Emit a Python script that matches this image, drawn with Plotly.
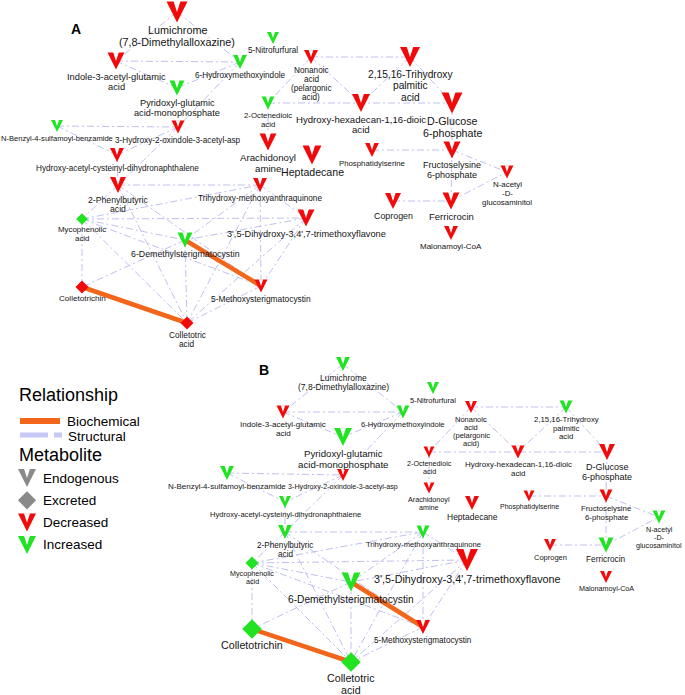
"""Metabolite network, panels A and B, with a hand-built key."""

import plotly.graph_objects as go

RED = "#f20a0a"
GREEN = "#22e322"
GRAY = "#8a8a8a"
EDGE_COLOR = "#c0c0f0"
ORANGE = "#f2661c"
TEXT_COLOR = "#141414"
FONT = "Liberation Sans, Arial, sans-serif"

W, H = 685, 695

# node names (same network in both panels)
LABELS = [
    "Lumichrome<br>(7,8-Dimethylalloxazine)",
    "5-Nitrofurfural",
    "Indole-3-acetyl-glutamic<br>acid",
    "6-Hydroxymethoxyindole",
    "Pyridoxyl-glutamic<br>acid-monophosphate",
    "Nonanoic<br>acid<br>(pelargonic<br>acid)",
    "2-Octenedioic<br>acid",
    "N-Benzyl-4-sulfamoyl-benzamide",
    "3-Hydroxy-2-oxindole-3-acetyl-asp",
    "Hydroxy-acetyl-cysteinyl-dihydronaphthalene",
    "Arachidonoyl<br>amine",
    "Heptadecane",
    "2,15,16-Trihydroxy<br>palmitic<br>acid",
    "Hydroxy-hexadecan-1,16-dioic<br>acid",
    "D-Glucose<br>6-phosphate",
    "Phosphatidylserine",
    "Fructoselysine<br>6-phosphate",
    "N-acetyl<br>-D-<br>glucosaminitol",
    "Coprogen",
    "Ferricrocin",
    "Malonamoyl-CoA",
    "2-Phenylbutyric<br>acid",
    "Trihydroxy-methoxyanthraquinone",
    "Mycophenolic<br>acid",
    "3',5-Dihydroxy-3,4',7-trimethoxyflavone",
    "6-Demethylsterigmatocystin",
    "5-Methoxysterigmatocystin",
    "Colletotrichin",
    "Colletotric<br>acid",
]
# endogenous (V) or excreted (diamond)
KIND = ["endo"] * 23 + ["excr", "endo", "endo", "endo", "excr", "excr"]

# panel A
A_X = [177, 273, 116, 240, 177, 311, 268, 57, 178, 117, 268, 312, 410, 361, 452,
       372, 452, 507, 393, 451, 451, 118, 260, 82, 306, 185, 261, 82, 187]
A_Y = [12, 38, 61, 62, 88, 57, 103, 126, 127, 155, 142, 155, 57, 103, 103,
       150, 150, 172, 201, 201, 233, 185, 185, 219, 218, 240, 286, 287, 323]
A_SIZE = [21, 12, 17, 14, 15, 14, 13, 12, 13, 14, 17, 19, 20, 18, 21,
          14, 17, 13, 16, 17, 14, 16, 14, 9, 17, 15, 13, 10, 10]
A_CHANGE = ["dec", "inc", "dec", "inc", "inc", "dec", "inc", "inc", "dec", "dec",
            "dec", "dec", "dec", "dec", "dec", "dec", "dec", "dec", "dec", "dec",
            "dec", "dec", "dec", "inc", "dec", "inc", "dec", "dec", "dec"]
A_FONT = [10.8, 8.2, 9.3, 8.2, 9.2, 8.2, 7.8, 7.6, 8.2, 8.2, 9.7, 10.6, 10.2, 9.6, 10.7,
          7.8, 9, 7.9, 8.9, 9.5, 8, 8.7, 8.2, 7.9, 9.2, 8.8, 8.4, 8.1, 8.3]

# panel B
B_X = [343, 433, 283, 403, 343, 471, 429, 227, 343, 285, 429, 472, 566, 518, 607,
       529, 606, 659, 550, 606, 606, 285, 423, 252, 467, 351, 423, 252, 351]
B_Y = [364, 388, 412, 412, 437, 407, 452, 473, 475, 502, 488, 503, 407, 452, 452,
       496, 496, 517, 545, 545, 577, 532, 532, 563, 560, 582, 627, 629, 662]
B_SIZE = [14, 12, 13, 13, 18, 12, 11, 14, 12, 12, 11, 14, 13, 13, 16,
          11, 13, 13, 12, 15, 12, 14, 13, 10, 22, 19, 14, 15, 15]
B_CHANGE = ["inc", "inc", "dec", "inc", "inc", "dec", "dec", "inc", "dec", "inc",
            "dec", "dec", "inc", "dec", "dec", "dec", "dec", "inc", "dec", "inc",
            "dec", "inc", "inc", "inc", "dec", "inc", "dec", "inc", "inc"]
B_FONT = [8.5, 7.5, 8.1, 7.6, 9.7, 7.5, 7.2, 8, 7.2, 7.6, 7.2, 8.5, 7.8, 7.9, 9,
          7, 7.8, 7.2, 7.5, 8.3, 7.2, 8.2, 7.6, 7.2, 10.8, 10.2, 8.2, 10.7, 10.7]

STRUCTURAL = [
    (0, 2), (0, 3), (2, 3), (2, 4), (3, 4), (3, 8),
    (7, 8), (7, 9), (8, 9), (9, 21), (8, 21),
    (5, 12), (5, 13), (5, 6), (12, 13), (12, 14), (6, 14), (6, 10),
    (14, 16), (15, 16), (16, 17), (16, 19), (18, 19), (19, 17),
    (21, 22), (21, 23), (21, 26), (21, 28),
    (23, 22), (23, 24), (23, 25), (23, 26), (23, 27), (23, 28),
    (22, 24), (22, 25), (22, 26), (22, 28),
    (24, 25), (24, 26), (24, 28),
    (25, 28), (25, 27), (26, 28),
]
BIOCHEMICAL = [(25, 26), (27, 28)]

PANEL_LETTERS = ["A", "B"]
LEGEND_ITEMS = ["Endogenous", "Excreted", "Decreased", "Increased"]

COLOR = {"dec": RED, "inc": GREEN}
LINE_HEIGHT = 1.1  # label line spacing, in em


def edge_xy(pairs, xs, ys):
    ex, ey = [], []
    for a, b in pairs:
        ex += [xs[a], xs[b], None]
        ey += [ys[a], ys[b], None]
    return ex, ey


def add_chevrons(fig, xs, ys, sizes, colors):
    """Down-pointing V: coloured arrowhead with a white notch on top."""
    tip_y = [y + s / 2 for y, s in zip(ys, sizes)]
    fig.add_trace(go.Scatter(
        x=xs, y=tip_y, mode="markers", hoverinfo="skip",
        marker=dict(symbol="arrow-down", size=sizes, color=colors, opacity=1,
                    line=dict(width=0)),
    ))
    notch_y = [t - 0.5 * s for t, s in zip(tip_y, sizes)]
    fig.add_trace(go.Scatter(
        x=xs, y=notch_y, mode="markers", hoverinfo="skip",
        marker=dict(symbol="arrow", angle=180, size=[0.55 * s for s in sizes],
                    color="white", opacity=1, line=dict(width=0)),
    ))


def add_panel(fig, xs, ys, sizes, changes, fonts):
    ex, ey = edge_xy(STRUCTURAL, xs, ys)
    fig.add_trace(go.Scatter(
        x=ex, y=ey, mode="lines", hoverinfo="skip",
        line=dict(color=EDGE_COLOR, width=1, dash="7px,3px,2px,3px"),
    ))
    ex, ey = edge_xy(BIOCHEMICAL, xs, ys)
    fig.add_trace(go.Scatter(
        x=ex, y=ey, mode="lines", hoverinfo="skip",
        line=dict(color=ORANGE, width=4.5),
    ))

    v_idx = [i for i, k in enumerate(KIND) if k == "endo"]
    d_idx = [i for i, k in enumerate(KIND) if k == "excr"]

    add_chevrons(fig, [xs[i] for i in v_idx], [ys[i] for i in v_idx],
                 [sizes[i] for i in v_idx], [COLOR[changes[i]] for i in v_idx])

    fig.add_trace(go.Scatter(
        x=[xs[i] for i in d_idx], y=[ys[i] for i in d_idx],
        mode="markers", hoverinfo="skip",
        marker=dict(symbol="diamond", size=[sizes[i] for i in d_idx],
                    color=[COLOR[changes[i]] for i in d_idx], opacity=1,
                    line=dict(width=0)),
    ))

    # labels under each node, one annotation per line for tight spacing
    for i, lab in enumerate(LABELS):
        if KIND[i] == "endo":
            top = ys[i] + sizes[i] / 2 + 2
        else:
            top = ys[i] + 0.65 * sizes[i] + 0.5
        lh = LINE_HEIGHT * fonts[i]
        for k, line in enumerate(lab.split("<br>")):
            fig.add_annotation(
                x=xs[i], y=top + lh * (k + 0.5), text=line, showarrow=False,
                xanchor="center", yanchor="middle", borderpad=0,
                font=dict(size=fonts[i], color=TEXT_COLOR, family=FONT),
            )


fig = go.Figure()
add_panel(fig, A_X, A_Y, A_SIZE, A_CHANGE, A_FONT)
add_panel(fig, B_X, B_Y, B_SIZE, B_CHANGE, B_FONT)

# panel letters, placed above the top-left node of each panel
for letter, lx, ly in zip(PANEL_LETTERS, [76, 264], [29, 370]):
    fig.add_annotation(x=lx, y=ly, text=f"<b>{letter}</b>", showarrow=False,
                       font=dict(size=14, color="black", family=FONT))

# ---- key ----
fig.add_annotation(x=17, y=395, text="Relationship", showarrow=False,
                   xanchor="left", font=dict(size=18, color="black", family=FONT))
fig.add_shape(type="line", x0=20, x1=60, y0=421, y1=421,
              line=dict(color=ORANGE, width=6))
fig.add_shape(type="line", x0=20, x1=62, y0=435, y1=435,
              line=dict(color="#c8c8f6", width=5, dash="28px,6px"))
fig.add_annotation(x=65, y=421, text="Biochemical", showarrow=False,
                   xanchor="left", font=dict(size=13.5, color="black", family=FONT))
fig.add_annotation(x=66, y=436, text="Structural", showarrow=False,
                   xanchor="left", font=dict(size=13.5, color="black", family=FONT))
fig.add_annotation(x=17, y=455, text="Metabolite", showarrow=False,
                   xanchor="left", font=dict(size=18, color="black", family=FONT))

key_y = [478 + 22.3 * k for k in range(len(LEGEND_ITEMS))]
key_colors = [GRAY, GRAY, RED, GREEN]
v_keys = [0, 2, 3]
add_chevrons(fig, [27] * len(v_keys), [key_y[k] for k in v_keys],
             [18] * len(v_keys), [key_colors[k] for k in v_keys])
fig.add_trace(go.Scatter(
    x=[27], y=[key_y[1]], mode="markers", hoverinfo="skip",
    marker=dict(symbol="diamond", size=14, color=GRAY, line=dict(width=0)),
))
for name, ky in zip(LEGEND_ITEMS, key_y):
    fig.add_annotation(x=41, y=ky, text=name, showarrow=False, xanchor="left",
                       font=dict(size=13.5, color="black", family=FONT))

fig.update_xaxes(range=[0, W], visible=False, fixedrange=True)
fig.update_yaxes(range=[H, 0], visible=False, fixedrange=True)
fig.update_layout(
    width=W, height=H,
    margin=dict(l=0, r=0, t=0, b=0),
    showlegend=False,
    plot_bgcolor="white", paper_bgcolor="white",
)

# the page's default body margin would push the figure off by 8px
fig.write_html("out.html", config={"displayModeBar": False},
               post_script="document.body.style.margin = '0';")
